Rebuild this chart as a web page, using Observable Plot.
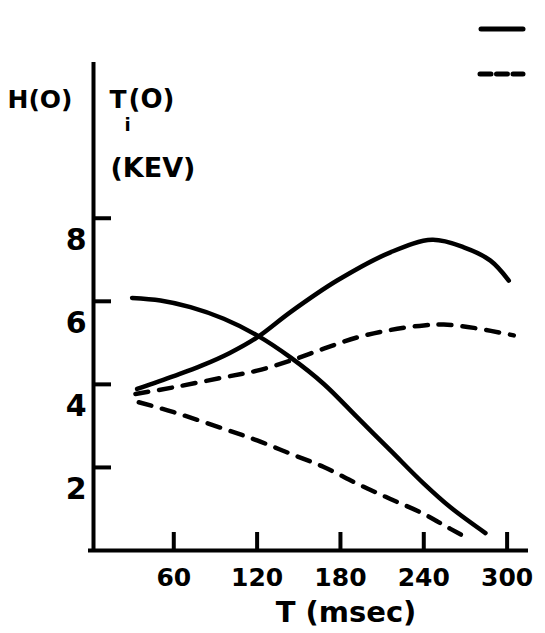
<!DOCTYPE html>
<html>
<head>
<meta charset="utf-8">
<script src="https://cdn.jsdelivr.net/npm/d3@7"></script>
<script src="https://cdn.jsdelivr.net/npm/@observablehq/plot@0.6"></script>
<style>
  html, body { margin: 0; padding: 0; background: #fff; }
  #chart svg { display: block; font-family: "DejaVu Sans", sans-serif; }
</style>
</head>
<body>
<div id="chart"></div>
<script>
// Time (msec) and values
const tSolidRise = [33.6, 60, 80, 100, 120, 144, 177.6, 216, 246, 268.8, 288, 301.2];
const vSolidRise = [3.89, 4.2, 4.45, 4.75, 5.13, 5.74, 6.50, 7.18, 7.48, 7.30, 6.98, 6.50];

const tSolidFall = [30, 50.4, 72, 96, 120, 144, 168, 192, 216, 240, 259.2, 284.4];
const vSolidFall = [6.08, 6.02, 5.86, 5.58, 5.18, 4.65, 4.01, 3.21, 2.41, 1.61, 1.04, 0.42];

const tDashRise = [32.4, 60, 96, 120, 144, 168, 192, 216, 240, 254.4, 276, 304.8];
const vDashRise = [3.77, 3.93, 4.17, 4.33, 4.57, 4.86, 5.13, 5.31, 5.42, 5.44, 5.36, 5.18];

const tDashFall = [34.8, 60, 96, 120, 144, 168, 192, 216, 240, 259.2, 273.6];
const vDashFall = [3.57, 3.33, 2.93, 2.65, 2.33, 2.01, 1.61, 1.24, 0.88, 0.52, 0.26];

const xTicks = [60, 120, 180, 240, 300];
const yTicks = [2, 4, 6, 8];
const xLabel = "T (msec)";

const toRows = (series, ts, vs) => ts.map((t, i) => ({series, t, v: vs[i]}));
const solid = [...toRows("Ti rise", tSolidRise, vSolidRise), ...toRows("H fall", tSolidFall, vSolidFall)];
const dashed = [...toRows("Ti rise", tDashRise, vDashRise), ...toRows("H fall", tDashFall, vDashFall)];

const font = {fontFamily: "DejaVu Sans", fontWeight: "bold", fill: "black"};

const chart = Plot.plot({
  width: 545,
  height: 633,
  marginLeft: 93,
  marginRight: 17,
  marginTop: 62,
  marginBottom: 83,
  x: {domain: [2.2, 315.4], axis: null},
  y: {domain: [0, 11.75], axis: null},
  marks: [
    // axis lines
    Plot.ruleY([0], {stroke: "black", strokeWidth: 4, insetLeft: -5}),
    Plot.ruleX([2.2], {stroke: "black", strokeWidth: 4}),
    // inward ticks
    Plot.axisX(xTicks, {tickSize: -18, strokeWidth: 4, tickFormat: () => "", label: null}),
    Plot.axisY(yTicks, {tickSize: -18, strokeWidth: 4, tickFormat: () => "", label: null}),
    // tick labels
    Plot.axisX(xTicks, {tickSize: 0, tickPadding: 18, fontSize: 25, ...font, label: null}),
    Plot.axisY(yTicks, {tickSize: 0, tickPadding: 7, dy: 22, fontSize: 30, ...font, label: null}),
    // curves
    Plot.line(solid, {x: "t", y: "v", z: "series", stroke: "black", strokeWidth: 4.5, curve: "catmull-rom", strokeLinecap: "round"}),
    Plot.line(dashed, {x: "t", y: "v", z: "series", stroke: "black", strokeWidth: 4.5, curve: "catmull-rom", strokeLinecap: "round", strokeDasharray: "13,11"}),
    // axis titles
    Plot.text([xLabel], {frameAnchor: "bottom", dx: 35, dy: 62, fontSize: 29, ...font, lineAnchor: "middle"}),
    Plot.text(["H(O)"], {frameAnchor: "top-left", dx: -86, dy: 37, fontSize: 25, ...font, textAnchor: "start", lineAnchor: "middle"}),
    Plot.text(["T"], {frameAnchor: "top-left", dx: 16, dy: 37, fontSize: 25, ...font, textAnchor: "start", lineAnchor: "middle"}),
    Plot.text(["i"], {frameAnchor: "top-left", dx: 31, dy: 63, fontSize: 18, ...font, textAnchor: "start", lineAnchor: "middle"}),
    Plot.text(["(O)"], {frameAnchor: "top-left", dx: 35, dy: 37, fontSize: 26, ...font, textAnchor: "start", lineAnchor: "middle"}),
    Plot.text(["(KEV)"], {frameAnchor: "top-left", dx: 17, dy: 106, fontSize: 27, ...font, textAnchor: "start", lineAnchor: "middle"})
  ]
});

// legend (line samples only, top right)
const svg = d3.select(chart);
const leg = svg.append("g").attr("stroke", "black").attr("stroke-width", 5).attr("stroke-linecap", "round");
leg.append("line").attr("x1", 481).attr("x2", 523).attr("y1", 29).attr("y2", 29);
leg.append("line").attr("x1", 480).attr("x2", 523).attr("y1", 74).attr("y2", 74).attr("stroke-dasharray", "11,5.5");

document.getElementById("chart").append(chart);
</script>
</body>
</html>
